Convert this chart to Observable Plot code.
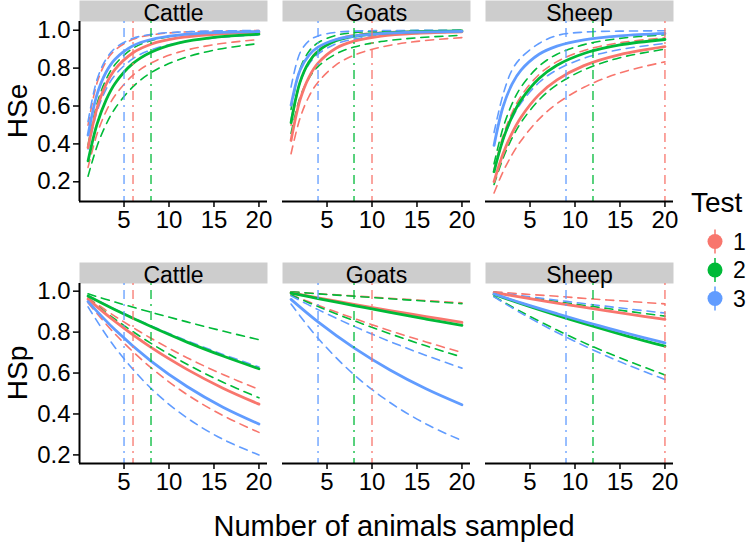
<!DOCTYPE html>
<html><head><meta charset="utf-8">
<script src="https://cdn.jsdelivr.net/npm/d3@7"></script>
<script src="https://cdn.jsdelivr.net/npm/@observablehq/plot@0.6"></script>
<style>
body{margin:0;background:#fff;}
#root{position:relative;width:755px;height:542px;overflow:hidden;font-family:"Liberation Sans",Arial,sans-serif;background:#fff;}
#root > svg{position:absolute;}
</style></head><body><div id="root"></div>
<script>
// ---------- data ----------
const species = ["Cattle", "Goats", "Sheep"];
const tests = ["1", "2", "3"];
const testColors = ["#F8766D", "#00BA38", "#619CFF"];
const xTicks = [5, 10, 15, 20];
const yTicksSe = [0.2, 0.4, 0.6, 0.8, 1.0];
const yTicksSp = [0.2, 0.4, 0.6, 0.8, 1.0];

// number of animals sampled at which curves were read
const nSe = [1, 2, 3, 4, 6, 8, 11, 15, 20];
const nSp = [1, 4, 8, 12, 16, 20];

// herd sensitivity (est / lower / upper) per test
const hseCattle = {
  "1": {est: [0.380,0.589,0.714,0.793,0.881,0.926,0.959,0.978,0.989], lo: [0.276,0.452,0.571,0.655,0.763,0.827,0.883,0.924,0.951], hi: [0.499,0.722,0.834,0.895,0.952,0.975,0.989,0.995,0.998]},
  "2": {est: [0.310,0.504,0.631,0.719,0.825,0.884,0.932,0.962,0.979], lo: [0.229,0.388,0.502,0.587,0.702,0.776,0.843,0.895,0.930], hi: [0.394,0.612,0.740,0.819,0.905,0.945,0.973,0.988,0.994]},
  "3": {est: [0.446,0.661,0.778,0.847,0.918,0.951,0.974,0.987,0.993], lo: [0.373,0.571,0.688,0.763,0.850,0.896,0.934,0.959,0.975], hi: [0.518,0.740,0.847,0.905,0.957,0.978,0.990,0.996,0.998]}
};
const hseGoats = {
  "1": {est: [0.418,0.632,0.753,0.826,0.905,0.942,0.969,0.984,0.992], lo: [0.348,0.536,0.651,0.726,0.817,0.868,0.911,0.941,0.961], hi: [0.499,0.722,0.834,0.895,0.952,0.975,0.989,0.995,0.998]},
  "2": {est: [0.512,0.726,0.832,0.889,0.944,0.968,0.984,0.992,0.996], lo: [0.456,0.646,0.747,0.808,0.875,0.911,0.940,0.960,0.973], hi: [0.582,0.796,0.889,0.934,0.973,0.987,0.995,0.998,0.999]},
  "3": {est: [0.604,0.789,0.869,0.911,0.951,0.969,0.982,0.990,0.994], lo: [0.527,0.726,0.821,0.874,0.928,0.953,0.972,0.984,0.990], hi: [0.700,0.881,0.944,0.970,0.989,0.995,0.998,0.999,1.000]}
};
const hseSheep = {
  "1": {est: [0.201,0.348,0.457,0.541,0.660,0.738,0.813,0.871,0.913], lo: [0.141,0.253,0.343,0.417,0.531,0.613,0.699,0.775,0.833], hi: [0.265,0.442,0.564,0.652,0.766,0.834,0.893,0.934,0.960]},
  "2": {est: [0.253,0.424,0.544,0.631,0.745,0.815,0.877,0.922,0.951], lo: [0.186,0.324,0.430,0.513,0.632,0.712,0.791,0.855,0.900], hi: [0.295,0.484,0.611,0.700,0.810,0.873,0.924,0.957,0.976]},
  "3": {est: [0.392,0.596,0.715,0.789,0.873,0.916,0.949,0.970,0.983], lo: [0.255,0.420,0.534,0.616,0.724,0.791,0.852,0.898,0.930], hi: [0.460,0.660,0.790,0.855,0.930,0.972,0.990,0.995,0.997]}
};

// herd specificity (est / lower / upper) per test
const hspCattle = {
  "1": {est: [0.961,0.852,0.725,0.618,0.526,0.448], lo: [0.943,0.791,0.626,0.495,0.392,0.310], hi: [0.968,0.877,0.770,0.675,0.593,0.520]},
  "2": {est: [0.976,0.909,0.827,0.751,0.683,0.621], lo: [0.964,0.863,0.745,0.643,0.555,0.479], hi: [0.987,0.947,0.897,0.850,0.805,0.763]},
  "3": {est: [0.949,0.811,0.658,0.534,0.433,0.351], lo: [0.923,0.725,0.525,0.381,0.276,0.200], hi: [0.977,0.912,0.831,0.758,0.691,0.630]}
};
const hspGoats = {
  "1": {est: [0.992,0.967,0.936,0.905,0.876,0.847], lo: [0.982,0.931,0.867,0.807,0.752,0.700], hi: [0.997,0.988,0.977,0.965,0.954,0.943]},
  "2": {est: [0.991,0.964,0.930,0.896,0.864,0.833], lo: [0.981,0.925,0.856,0.792,0.733,0.678], hi: [0.997,0.987,0.975,0.963,0.951,0.939]},
  "3": {est: [0.960,0.850,0.723,0.615,0.523,0.445], lo: [0.937,0.770,0.592,0.456,0.351,0.270], hi: [0.977,0.910,0.828,0.754,0.686,0.624]}
};
const hspSheep = {
  "1": {est: [0.993,0.971,0.942,0.915,0.888,0.862], lo: [0.985,0.943,0.889,0.839,0.791,0.746], hi: [0.997,0.987,0.975,0.962,0.950,0.938]},
  "2": {est: [0.984,0.939,0.882,0.829,0.778,0.731], lo: [0.974,0.900,0.810,0.729,0.657,0.591], hi: [0.994,0.974,0.949,0.925,0.901,0.878]},
  "3": {est: [0.986,0.943,0.890,0.839,0.792,0.747], lo: [0.972,0.893,0.798,0.713,0.637,0.569], hi: [0.994,0.978,0.956,0.934,0.913,0.893]}
};

// recommended sample size per test (1, 2, 3)
const cutCattle = [6, 8, 5];
const cutGoats = [10, 8, 4];
const cutSheep = [20, 12, 9];

// ---------- tables ----------
function toRows(obj, sp, ns) {
  const out = [];
  for (const t of tests) for (const b of ["lo", "hi", "est"])
    obj[t][b].forEach((v, i) => out.push({species: sp, test: t, bound: b, series: sp + t + b, n: ns[i], v}));
  return out;
}
const seRows = [...toRows(hseCattle, "Cattle", nSe), ...toRows(hseGoats, "Goats", nSe), ...toRows(hseSheep, "Sheep", nSe)];
const spRows = [...toRows(hspCattle, "Cattle", nSp), ...toRows(hspGoats, "Goats", nSp), ...toRows(hspSheep, "Sheep", nSp)];
const cuts = [];
[[cutCattle, "Cattle"], [cutGoats, "Goats"], [cutSheep, "Sheep"]].forEach(([arr, sp]) =>
  arr.forEach((n, i) => cuts.push({species: sp, test: tests[i], n})));

const FONT = "Liberation Sans, Arial, sans-serif";
const X_DOMAIN = [0.05, 20.95];

function makeRow(data, yDomain, yTicks, height, mt, mb) {
  const panelH = height - mt - mb;
  return Plot.plot({
    width: 755, height, marginTop: mt, marginBottom: mb, marginLeft: 79, marginRight: 82,
    style: {fontFamily: FONT, fontSize: "24px", color: "black", background: "transparent", overflow: "visible"},
    fx: {domain: species, paddingInner: 0.0739, paddingOuter: 0, axis: null, label: null},
    x: {domain: X_DOMAIN, label: null},
    y: {domain: yDomain, label: null},
    color: {domain: tests, range: testColors},
    marks: [
      Plot.frame({fill: "#cdcdcd", insetTop: -21, insetBottom: panelH}),
      Plot.text(species, {fx: d => d, text: d => d, frameAnchor: "top", lineAnchor: "bottom", dy: -1, fontSize: 23, fill: "black"}),
      Plot.line(data.filter(d => d.bound !== "est"), {fx: "species", x: "n", y: "v", z: "series", stroke: "test", strokeWidth: 1.6, strokeDasharray: "8,6", curve: "catmull-rom"}),
      Plot.line(data.filter(d => d.bound === "est"), {fx: "species", x: "n", y: "v", z: "series", stroke: "test", strokeWidth: 2.8, curve: "catmull-rom"}),
      Plot.ruleX(cuts, {fx: "species", x: "n", stroke: "test", strokeWidth: 1.3, strokeDasharray: "2,5,9,5"}),
      Plot.ruleY([yDomain[0]], {stroke: "black", strokeWidth: 2}),
      Plot.ruleX([{species: "Cattle", x: X_DOMAIN[0]}], {fx: "species", x: "x", stroke: "black", strokeWidth: 2}),
      Plot.axisX({ticks: xTicks, tickSize: 6, tickPadding: 3, label: null, fontSize: 24, strokeWidth: 1.5}),
      Plot.axisY({ticks: yTicks, tickSize: 6, tickPadding: 3, label: null, fontSize: 24, strokeWidth: 1.5, tickFormat: d => d.toFixed(1)})
    ]
  });
}

const root = document.getElementById("root");
const rowSe = makeRow(seRows, [0.096, 1.046], yTicksSe, 240, 21, 39);
rowSe.style.left = "0px"; rowSe.style.top = "0px";
root.appendChild(rowSe);
const rowSp = makeRow(spRows, [0.158, 1.0375], yTicksSp, 262, 41, 41);
rowSp.style.left = "0px"; rowSp.style.top = "242px";
root.appendChild(rowSp);

// titles and legend
const ov = d3.select(root).append("svg").attr("width", 755).attr("height", 542)
  .style("left", "0px").style("top", "0px").style("font-family", FONT);
ov.append("text").attr("transform", "translate(27,111) rotate(-90)").attr("text-anchor", "middle").attr("font-size", 28).text("HSe");
ov.append("text").attr("transform", "translate(27,373) rotate(-90)").attr("text-anchor", "middle").attr("font-size", 28).text("HSp");
ov.append("text").attr("x", 394).attr("y", 536).attr("text-anchor", "middle").attr("font-size", 29).text("Number of animals sampled");
ov.append("text").attr("x", 691).attr("y", 212).attr("font-size", 28).text("Test");
tests.forEach((t, i) => {
  const cy = 241.5 + i * 28.5;
  ov.append("line").attr("x1", 715).attr("x2", 715).attr("y1", cy - 12).attr("y2", cy + 12).attr("stroke", testColors[i]).attr("stroke-width", 1.5);
  ov.append("circle").attr("cx", 715).attr("cy", cy).attr("r", 7.5).attr("fill", testColors[i]);
  ov.append("text").attr("x", 733).attr("y", cy + 8).attr("font-size", 23).text(t);
});
</script></body></html>
